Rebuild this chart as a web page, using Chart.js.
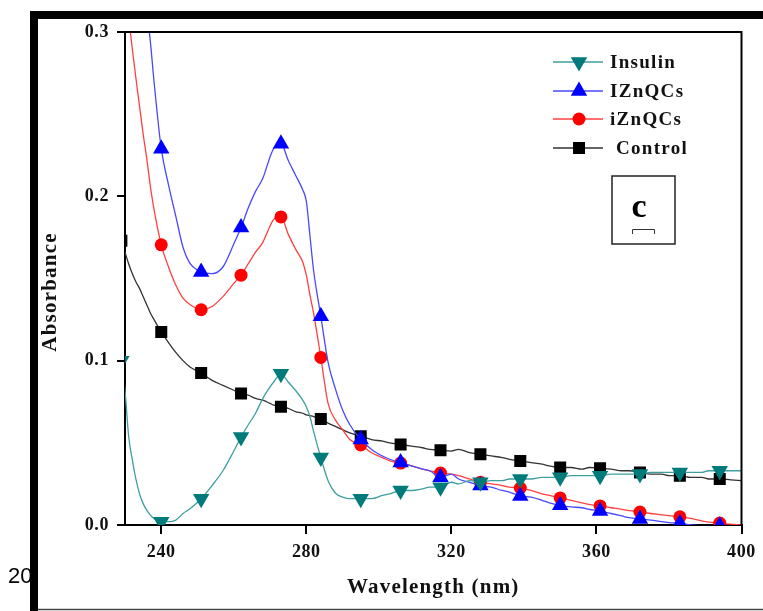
<!DOCTYPE html>
<html>
<head>
<meta charset="UTF-8">
<title>Absorbance spectra</title>
<style>
  html, body { margin: 0; padding: 0; background: #fff; }
  #wrap { width: 763px; height: 611px; }
</style>
</head>
<body>
<div id="wrap"><canvas id="chart" width="763" height="611"></canvas></div>
<script src="https://cdn.jsdelivr.net/npm/chart.js"></script>
<script>
// wavelength grid (nm) shared by all four spectra
const wl = [229, 230, 231, 232, 233, 234, 235, 236, 237, 238,
  240, 242, 244, 246, 248, 251, 254, 257, 260, 262,
  264, 266, 268, 270, 271, 273, 275, 277, 279, 280,
  281, 282, 284, 286, 288, 290, 292, 295, 298, 301,
  303, 306, 309, 312, 314, 317, 320, 322, 325, 328,
  331, 334, 336, 339, 342, 345, 347, 350, 353, 356,
  358, 361, 364, 367, 369, 372, 375, 378, 380, 383,
  386, 389, 391, 394, 397, 400];

const insulin = [0.100, 0.082, 0.054, 0.040, 0.028, 0.019, 0.013, 0.009, 0.006, 0.004,
  0.002, 0.002, 0.003, 0.007, 0.010, 0.016, 0.024, 0.033, 0.045, 0.0535,
  0.061, 0.068, 0.077, 0.084, 0.087, 0.092, 0.087, 0.082, 0.076, 0.072,
  0.066, 0.057, 0.041, 0.027, 0.0195, 0.017, 0.016, 0.016, 0.016, 0.018,
  0.019, 0.021, 0.021, 0.022, 0.023, 0.023, 0.026, 0.025, 0.027, 0.026,
  0.027, 0.027, 0.028, 0.028, 0.028, 0.029, 0.029, 0.029, 0.030, 0.030,
  0.030, 0.030, 0.031, 0.031, 0.031, 0.031, 0.032, 0.032, 0.032, 0.032,
  0.032, 0.032, 0.033, 0.033, 0.033, 0.033];

const iznqcsUpper = [0.46, 0.44, 0.42, 0.395, 0.375, 0.355, 0.335, 0.313, 0.294, 0.27,
  0.229, 0.207, 0.188, 0.169, 0.159, 0.154, 0.153, 0.157, 0.171, 0.181,
  0.193, 0.203, 0.211, 0.224, 0.229, 0.232, 0.222, 0.213, 0.204, 0.197,
  0.176, 0.155, 0.127, 0.099, 0.083, 0.070, 0.061, 0.052, 0.046, 0.042,
  0.040, 0.038, 0.036, 0.034, 0.033, 0.029, 0.031, 0.028, 0.026, 0.024,
  0.023, 0.021, 0.020, 0.0177, 0.017, 0.015, 0.0135, 0.012, 0.011, 0.0105,
  0.0095, 0.0085, 0.007, 0.0055, 0.0045, 0.0037, 0.003, 0.002, 0.0015, 0.001,
  0.0, -0.0005, -0.001, -0.0005, -0.001, -0.0015];

const iznqcsLower = [0.36, 0.335, 0.31, 0.29, 0.272, 0.255, 0.238, 0.223, 0.206, 0.192,
  0.1705, 0.157, 0.146, 0.138, 0.134, 0.131, 0.133, 0.139, 0.147, 0.152,
  0.159, 0.166, 0.172, 0.182, 0.186, 0.1875, 0.177, 0.168, 0.160, 0.152,
  0.140, 0.129, 0.102, 0.074, 0.064, 0.058, 0.052, 0.0487, 0.044, 0.041,
  0.039, 0.0377, 0.036, 0.034, 0.033, 0.0316, 0.031, 0.030, 0.028, 0.026,
  0.025, 0.024, 0.023, 0.0225, 0.021, 0.019, 0.018, 0.0165, 0.015, 0.0135,
  0.0125, 0.0116, 0.0105, 0.0095, 0.0087, 0.0079, 0.007, 0.0062, 0.0057, 0.005,
  0.004, 0.0025, 0.0018, 0.0012, 0.0005, 0.0];

const control = [0.173, 0.166, 0.159, 0.153, 0.148, 0.144, 0.139, 0.134, 0.129, 0.125,
  0.1175, 0.111, 0.105, 0.100, 0.096, 0.0925, 0.088, 0.085, 0.082, 0.080,
  0.079, 0.077, 0.076, 0.074, 0.073, 0.072, 0.071, 0.069, 0.068, 0.067,
  0.0665, 0.066, 0.0645, 0.062, 0.060, 0.058, 0.056, 0.054, 0.052, 0.051,
  0.050, 0.049, 0.048, 0.047, 0.046, 0.0455, 0.045, 0.046, 0.044, 0.043,
  0.042, 0.041, 0.040, 0.039, 0.038, 0.037, 0.036, 0.035, 0.035, 0.034,
  0.035, 0.0345, 0.034, 0.033, 0.033, 0.032, 0.031, 0.031, 0.030, 0.030,
  0.029, 0.029, 0.028, 0.028, 0.0275, 0.027];

// wavelengths that carry a symbol
const markerWl = [229, 240, 251, 262, 273, 284, 295, 306, 317, 328, 339, 350, 361, 372, 383, 394];

const xTicks = [240, 280, 320, 360, 400];
const yTicks = [0, 0.1, 0.2, 0.3];
const seriesNames = ['Insulin', 'IZnQCs', 'iZnQCs', 'Control'];

const styles = [
  { line: '#3f9f9f', mark: '#007a7a', shape: 'triangle', rot: 180, r: 9.5 },
  { line: '#4848ff', mark: '#0000ff', shape: 'triangle', rot: 0, r: 9.5 },
  { line: '#ff4040', mark: '#ff0000', shape: 'circle', rot: 0, r: 6.5 },
  { line: '#333333', mark: '#000000', shape: 'rect', rot: 0, r: 8.5 }
];

const serif = "'Liberation Serif', 'Times New Roman', serif";

function makeSet(i, values) {
  const s = styles[i];
  return {
    label: seriesNames[i],
    data: wl.map((x, k) => ({ x: x, y: values[k] })),
    borderColor: s.line,
    borderWidth: 1.3,
    pointBackgroundColor: s.mark,
    pointBorderColor: s.mark,
    pointBorderWidth: 0,
    pointStyle: s.shape,
    pointRotation: s.rot,
    pointRadius: ctx => markerWl.includes(wl[ctx.dataIndex]) ? s.r : 0,
    pointHoverRadius: 0,
    cubicInterpolationMode: 'monotone',
    fill: false
  };
}

const decor = {
  id: 'decor',
  beforeDraw(chart) {
    const ctx = chart.ctx;
    ctx.save();
    ctx.fillStyle = '#fff';
    ctx.fillRect(0, 0, chart.width, chart.height);
    // page text behind the figure, cut off by the frame
    ctx.beginPath();
    ctx.rect(0, 0, 30, chart.height);
    ctx.clip();
    ctx.fillStyle = '#000';
    ctx.font = "22px 'Liberation Sans', Arial, sans-serif";
    ctx.textBaseline = 'alphabetic';
    ctx.fillText('2021', 8, 583);
    ctx.restore();
    ctx.letterSpacing = '0.6px';
  },
  afterDraw(chart) {
    const ctx = chart.ctx;
    const a = chart.chartArea;
    ctx.save();
    ctx.letterSpacing = '0px';

    // top and right edges of the plot box
    ctx.strokeStyle = '#000';
    ctx.lineWidth = 2;
    ctx.beginPath();
    ctx.moveTo(a.left, a.top);
    ctx.lineTo(a.right, a.top);
    ctx.lineTo(a.right, a.bottom);
    ctx.stroke();

    // axis titles
    ctx.fillStyle = '#111';
    ctx.font = 'bold 21px ' + serif;
    ctx.letterSpacing = '1.2px';
    ctx.textAlign = 'center';
    ctx.textBaseline = 'middle';
    ctx.fillText('Wavelength (nm)', (a.left + a.right) / 2, 588);
    ctx.save();
    ctx.translate(51, 292);
    ctx.rotate(-Math.PI / 2);
    ctx.fillText('Absorbance', 0, 0);
    ctx.restore();

    // legend
    const rows = [62, 91, 119, 148];
    ctx.font = 'bold 19px ' + serif;
    ctx.letterSpacing = '1.3px';
    ctx.textAlign = 'left';
    rows.forEach((y, i) => {
      const s = styles[i];
      ctx.strokeStyle = s.line;
      ctx.lineWidth = 1.3;
      ctx.beginPath();
      ctx.moveTo(553, y);
      ctx.lineTo(603, y);
      ctx.stroke();
      ctx.fillStyle = s.mark;
      Chart.helpers.drawPoint(ctx, { pointStyle: s.shape, rotation: s.rot, radius: s.r, borderWidth: 0 }, 579, y);
      ctx.fillStyle = '#111';
      ctx.fillText((i === 3 ? ' ' : '') + seriesNames[i], 610, y + 1);
    });

    // panel label box
    ctx.letterSpacing = '0px';
    ctx.strokeStyle = '#222';
    ctx.lineWidth = 1.5;
    ctx.strokeRect(612, 176, 63, 68);
    ctx.fillStyle = '#000';
    ctx.font = 'bold 34px ' + serif;
    ctx.textAlign = 'center';
    ctx.textBaseline = 'alphabetic';
    ctx.fillText('c', 639, 217);
    ctx.strokeStyle = '#333';
    ctx.lineWidth = 1;
    ctx.beginPath();
    ctx.moveTo(632.5, 234);
    ctx.lineTo(632.5, 229.5);
    ctx.lineTo(654.5, 229.5);
    ctx.lineTo(654.5, 234);
    ctx.stroke();

    // outer frame
    ctx.fillStyle = '#000';
    ctx.fillRect(30, 11, chart.width - 30, 8);
    ctx.fillRect(30, 11, 8, chart.height - 11);
    ctx.strokeStyle = '#444';
    ctx.lineWidth = 1.5;
    ctx.beginPath();
    ctx.moveTo(38, 609.5);
    ctx.lineTo(chart.width, 609.5);
    ctx.stroke();
    ctx.restore();
  }
};

const tickFont = { family: serif, size: 18, weight: 'bold' };

new Chart(document.getElementById('chart'), {
  type: 'line',
  data: {
    datasets: [
      makeSet(0, insulin),
      makeSet(1, iznqcsUpper),
      makeSet(2, iznqcsLower),
      makeSet(3, control)
    ]
  },
  options: {
    responsive: false,
    animation: false,
    events: [],
    layout: { padding: { left: 38, top: 32, right: 17, bottom: 0 } },
    plugins: { legend: { display: false }, tooltip: { enabled: false } },
    scales: {
      x: {
        type: 'linear',
        min: 230,
        max: 400,
        afterFit(scale) { scale.height = 86; },
        afterBuildTicks(scale) { scale.ticks = xTicks.map(v => ({ value: v })); },
        border: { display: true, color: '#000', width: 2 },
        grid: { drawOnChartArea: false, drawTicks: true, tickLength: 9, color: '#000', lineWidth: 2 },
        ticks: { color: '#111', font: tickFont, padding: 8, maxRotation: 0, callback: v => String(v) }
      },
      y: {
        type: 'linear',
        min: 0,
        max: 0.3,
        afterFit(scale) { scale.width = 87; },
        afterBuildTicks(scale) { scale.ticks = yTicks.map(v => ({ value: v })); },
        border: { display: true, color: '#000', width: 2 },
        grid: { drawOnChartArea: false, drawTicks: true, tickLength: 8, color: '#000', lineWidth: 2 },
        ticks: { color: '#111', font: tickFont, padding: 8, callback: v => v.toFixed(1) }
      }
    }
  },
  plugins: [decor]
});
</script>
</body>
</html>
